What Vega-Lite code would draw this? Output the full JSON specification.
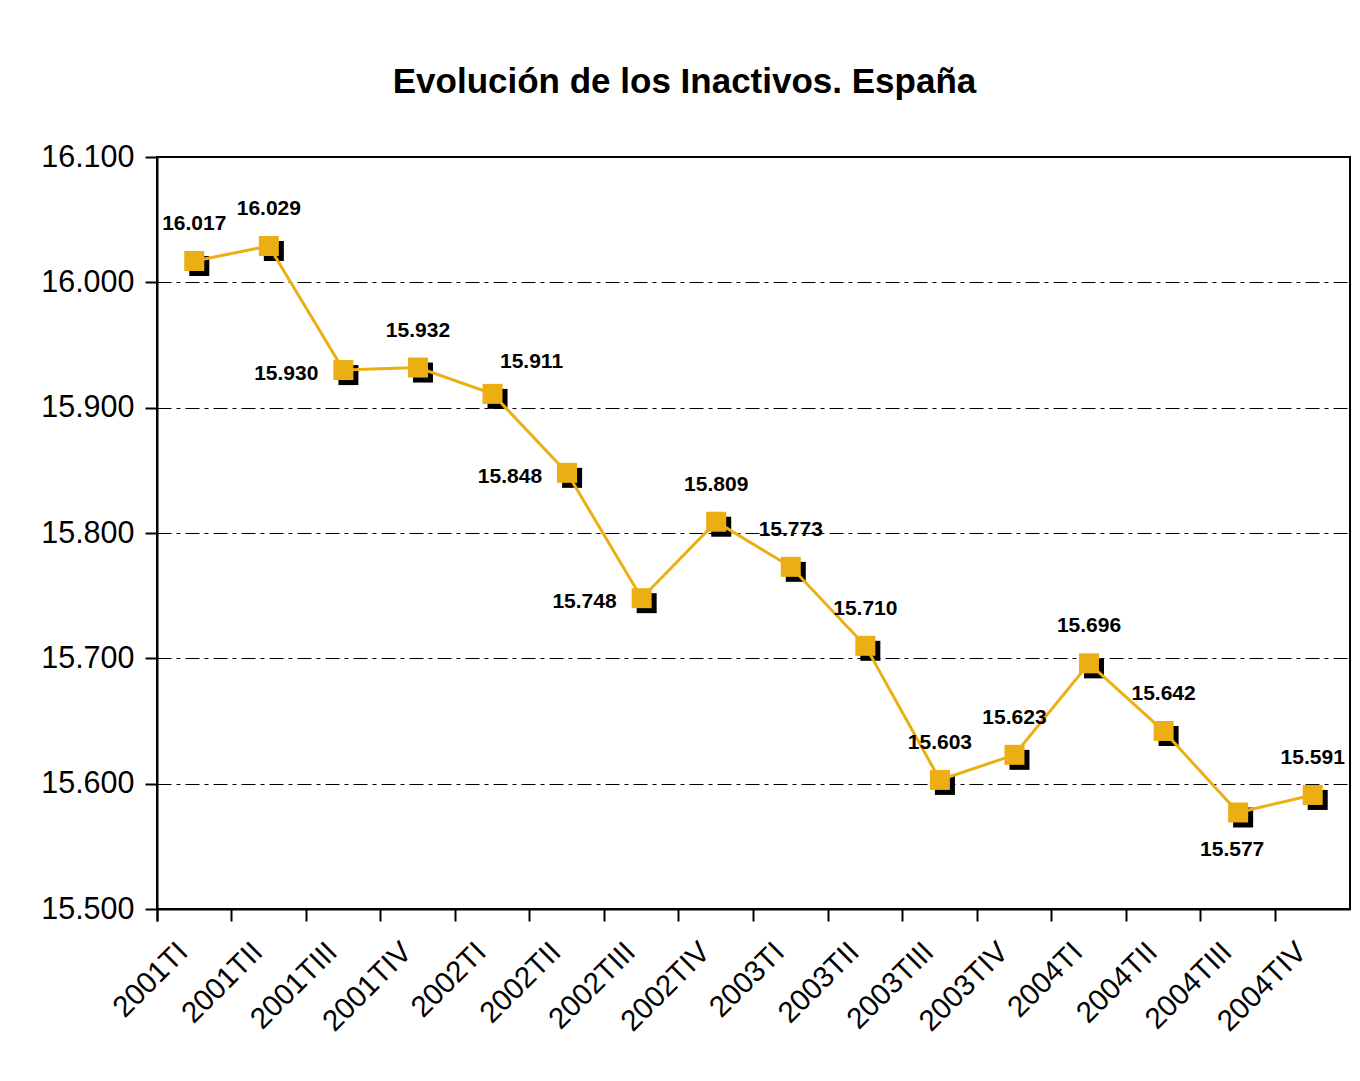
{
  "$schema": "https://vega.github.io/schema/vega-lite/v6.json",
  "width": 1193,
  "height": 752,
  "autosize": {"type": "none"},
  "padding": {"left": 157, "top": 157, "right": 10, "bottom": 172},
  "background": "white",
  "title": {
    "text": "Evolución de los Inactivos. España",
    "font": "Liberation Sans",
    "fontSize": 35,
    "fontWeight": "bold",
    "color": "black",
    "anchor": "middle",
    "dx": -69,
    "offset": 42
  },
  "config": {
    "locale": {"number": {"decimal": ",", "thousands": ".", "grouping": [3], "currency": ["", " €"]}},
    "view": {"stroke": "black", "strokeWidth": 2},
    "font": "Liberation Sans"
  },
  "data": {
    "values": [
      {"q": "2001TI", "v": 16017},
      {"q": "2001TII", "v": 16029},
      {"q": "2001TIII", "v": 15930},
      {"q": "2001TIV", "v": 15932},
      {"q": "2002TI", "v": 15911},
      {"q": "2002TII", "v": 15848},
      {"q": "2002TIII", "v": 15748},
      {"q": "2002TIV", "v": 15809},
      {"q": "2003TI", "v": 15773},
      {"q": "2003TII", "v": 15710},
      {"q": "2003TIII", "v": 15603},
      {"q": "2003TIV", "v": 15623},
      {"q": "2004TI", "v": 15696},
      {"q": "2004TII", "v": 15642},
      {"q": "2004TIII", "v": 15577},
      {"q": "2004TIV", "v": 15591}
    ]
  },
  "encoding": {
    "x": {
      "field": "q",
      "type": "nominal",
      "sort": null,
      "scale": {"type": "band", "paddingInner": 0, "paddingOuter": 0},
      "axis": {
        "title": null,
        "bandPosition": 0,
        "tickExtra": true,
        "labelAngle": -45,
        "labelAlign": "right",
        "labelBaseline": "middle",
        "labelOffset": -11,
        "labelPadding": 26,
        "labelFont": "Liberation Sans",
        "labelFontSize": 29.5,
        "labelColor": "black",
        "tickSize": 12,
        "tickColor": "black",
        "tickWidth": 2,
        "domainColor": "black",
        "domainWidth": 2,
        "grid": false
      }
    },
    "y": {
      "field": "v",
      "type": "quantitative",
      "scale": {"domain": [15500, 16100], "nice": false, "zero": false},
      "axis": {
        "title": null,
        "values": [15500, 15600, 15700, 15800, 15900, 16000, 16100],
        "format": ",d",
        "labelFont": "Liberation Sans",
        "labelFontSize": 30.5,
        "labelColor": "black",
        "labelPadding": 11,
        "tickSize": 12,
        "tickColor": "black",
        "tickWidth": 2,
        "domainColor": "black",
        "domainWidth": 2,
        "grid": true,
        "gridColor": "black",
        "gridWidth": 1,
        "gridDash": [14, 5, 4, 5]
      }
    }
  },
  "layer": [
    {"mark": {"type": "point", "shape": "square", "filled": true, "color": "black", "size": 400, "opacity": 1, "xOffset": 5, "yOffset": 5}},
    {"mark": {"type": "line", "color": "#EBAF14", "strokeWidth": 3}},
    {"mark": {"type": "point", "shape": "square", "filled": true, "color": "#EBAF14", "size": 400, "opacity": 1}},
    {
      "transform": [{"filter": {"field": "q", "oneOf": ["2001TI", "2001TII", "2001TIV", "2002TIV", "2003TI", "2003TII", "2003TIII", "2003TIV", "2004TI", "2004TII", "2004TIV"]}}],
      "mark": {"type": "text", "font": "Liberation Sans", "fontSize": 21, "fontWeight": "bold", "color": "black", "dy": -37, "align": "center", "baseline": "middle"},
      "encoding": {"text": {"field": "v", "type": "quantitative", "format": ",d"}}
    },
    {
      "transform": [{"filter": {"field": "q", "oneOf": ["2001TIII", "2002TII", "2002TIII"]}}],
      "mark": {"type": "text", "font": "Liberation Sans", "fontSize": 21, "fontWeight": "bold", "color": "black", "dx": -25, "dy": 4, "align": "right", "baseline": "middle"},
      "encoding": {"text": {"field": "v", "type": "quantitative", "format": ",d"}}
    },
    {
      "transform": [{"filter": {"field": "q", "equal": "2002TI"}}],
      "mark": {"type": "text", "font": "Liberation Sans", "fontSize": 21, "fontWeight": "bold", "color": "black", "dx": 39, "dy": -32, "align": "center", "baseline": "middle"},
      "encoding": {"text": {"field": "v", "type": "quantitative", "format": ",d"}}
    },
    {
      "transform": [{"filter": {"field": "q", "equal": "2004TIII"}}],
      "mark": {"type": "text", "font": "Liberation Sans", "fontSize": 21, "fontWeight": "bold", "color": "black", "dx": -6, "dy": 38, "align": "center", "baseline": "middle"},
      "encoding": {"text": {"field": "v", "type": "quantitative", "format": ",d"}}
    }
  ]
}
